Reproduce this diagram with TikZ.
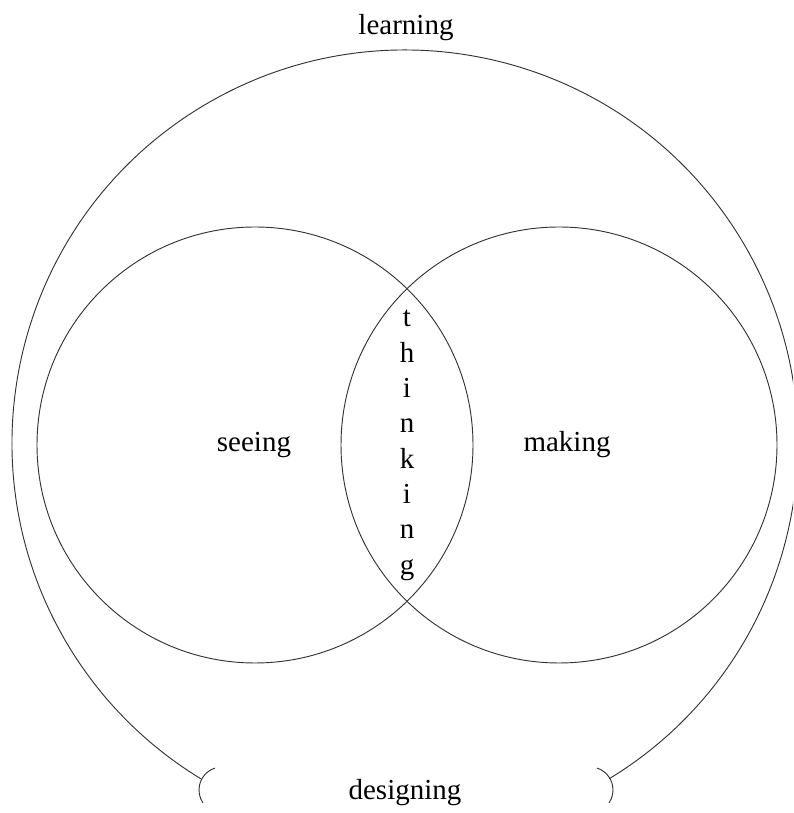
\documentclass[tikz,border=0pt]{standalone}
\usepackage{fontspec}
\setmainfont{Liberation Serif}
\begin{document}
\begin{tikzpicture}[x=0.75pt,y=0.75pt,
  ring/.style={draw=black!80,line width=0.7pt},
  word/.style={font=\fontsize{21.75}{26}\selectfont,anchor=base,inner sep=0pt},
  letter/.style={word}]
\useasboundingbox (0,0) rectangle (793,813);
\clip (0,0) rectangle (793,813);

% centres of the three circles
\coordinate (big) at (405,370);
\coordinate (cs) at (255,368);
\coordinate (cm) at (559,368);

% the two overlapping circles
\draw[ring] (cs) circle[radius=218];
\draw[ring] (cm) circle[radius=218];

% the large open arc with its small end hooks
\draw[ring] (big) ++(-58.7:393) arc[start angle=-58.7,end angle=238.7,radius=393];
\coordinate (hl) at (222,23);
\coordinate (hr) at (590,23);
\draw[ring] (hl) ++(108:23) arc[start angle=108,end angle=214,radius=23];
\draw[ring] (hr) ++(72:23) arc[start angle=72,end angle=-34,radius=23];

% labels
\node[word] (learning) at (406,778) {learning};
\node[word] (designing) at (405,13) {designing};
\node[word] (seeing) at (254,361) {seeing};
\node[word] (making) at (567,361) {making};

% the vertical word in the overlap
\foreach \ch [count=\i from 0] in {t,h,i,n,k,i,n,g}
  \node[letter] (think\i) at (407,{486-35.3*\i}) {\ch};
\end{tikzpicture}
\end{document}
